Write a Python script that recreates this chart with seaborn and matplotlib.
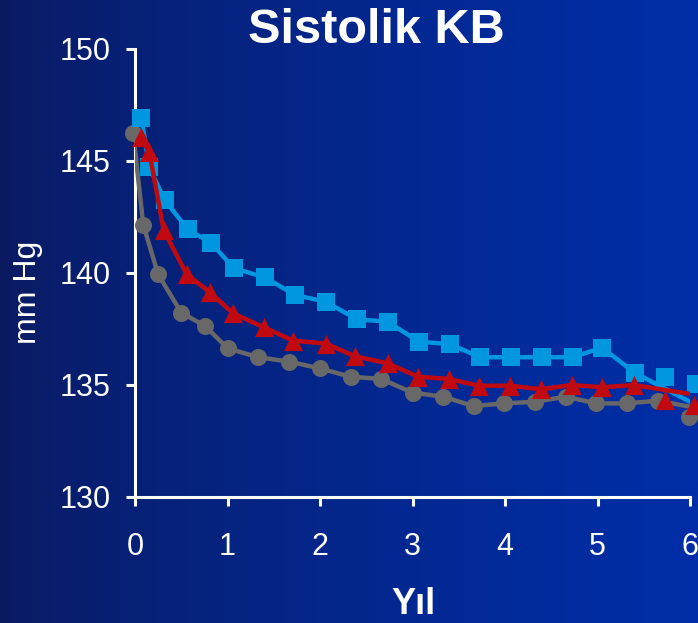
import numpy as np
import pandas as pd
import matplotlib
matplotlib.use("Agg")
import matplotlib.pyplot as plt
import seaborn as sns

# ---------------- data ----------------
gray_x = [-0.02, 0.09, 0.25, 0.5, 0.76, 1.0, 1.33, 1.67, 2.0, 2.33, 2.66, 3.0,
          3.33, 3.66, 3.99, 4.32, 4.66, 4.98, 5.32, 5.65, 5.99]
gray_y = [146.24, 142.14, 139.94, 138.23, 137.63, 136.64, 136.24, 136.04, 135.74,
          135.37, 135.27, 134.66, 134.48, 134.06, 134.18, 134.25, 134.48, 134.18,
          134.18, 134.3, 133.56]
gray_line_end = (6.0, 134.03)

blue_x = [0.07, 0.155, 0.32, 0.57, 0.82, 1.07, 1.40, 1.73, 2.06, 2.40, 2.73, 3.07,
          3.40, 3.73, 4.06, 4.40, 4.73, 5.05, 5.40, 5.73, 6.06]
blue_y = [146.9, 144.72, 143.26, 141.95, 141.35, 140.21, 139.81, 139.02, 138.72,
          137.93, 137.83, 136.93, 136.83, 136.24, 136.24, 136.24, 136.24, 136.67,
          135.55, 135.34, 135.04]
blue_line_end = (6.0, 134.25)

red_x = [0.06, 0.155, 0.31, 0.56, 0.81, 1.06, 1.39, 1.71, 2.06, 2.38, 2.73, 3.06,
         3.39, 3.72, 4.05, 4.39, 4.72, 5.05, 5.39, 5.73, 6.04]
red_y = [146.07, 145.4, 141.9, 139.94, 139.14, 138.2, 137.58, 136.98, 136.85,
         136.28, 135.97, 135.37, 135.27, 134.97, 134.97, 134.81, 135.0, 134.9,
         135.0, 134.33, 134.1]
red_line_end = (6.0, 134.6)

x_ticks = [0, 1, 2, 3, 4, 5, 6]
y_ticks = [130, 135, 140, 145, 150]

# ---------------- style ----------------
sns.set_theme(style="white")
plt.rcParams['font.family'] = ['Liberation Sans', 'DejaVu Sans']

W, H = 698, 623
fig = plt.figure(figsize=(W / 100, H / 100), dpi=100)

# background gradient
bg = fig.add_axes([0, 0, 1, 1], zorder=-10)
t = np.linspace(0, 1, 256)
left = np.array([10, 26, 95]) / 255
right = np.array([0, 46, 168]) / 255
grad = left[None, :] * (1 - t[:, None] ** 0.7) + right[None, :] * (t[:, None] ** 0.7)
bg.imshow(grad[None, :, :], aspect='auto', extent=[0, 1, 0, 1])
bg.set_axis_off()

ax = fig.add_axes([135 / W, 1 - 497 / H, (690 - 135) / W, (497 - 49) / H])
ax.patch.set_alpha(0)

series = [
    ("gray", gray_x, gray_y, gray_line_end, 1, "#686868", "o", 150),
    ("blue", blue_x, blue_y, blue_line_end, 2, "#0096e0", "s", 150),
    ("red", red_x, red_y, red_line_end, 2, "#c00a10", "^", 190),
]
for i, (name, xs, ys, end, drop, col, mk, sz) in enumerate(series):
    lx = xs[:-drop] + [end[0]]
    ly = ys[:-drop] + [end[1]]
    dfl = pd.DataFrame({"x": lx, "y": ly})
    sns.lineplot(data=dfl, x="x", y="y", ax=ax, color=col, lw=3.2, sort=False,
                 estimator=None, zorder=3 + 2 * i)
    dfm = pd.DataFrame({"x": xs, "y": ys})
    sns.scatterplot(data=dfm, x="x", y="y", ax=ax, color=col, marker=mk, s=sz,
                    linewidth=0, zorder=4 + 2 * i, clip_on=False)
for c in ax.collections:
    c.set_clip_on(False)

ax.set_xlim(0, 6)
ax.set_ylim(130, 150)
ax.set_xticks(x_ticks)
ax.set_yticks(y_ticks)
ax.set_xticklabels([str(v) for v in x_ticks])
ax.set_yticklabels([str(v) for v in y_ticks])
ax.set_xlabel("")
ax.set_ylabel("")

for s in ["top", "right"]:
    ax.spines[s].set_visible(False)
for s in ["left", "bottom"]:
    ax.spines[s].set_color("white")
    ax.spines[s].set_linewidth(2.2)
ax.tick_params(axis="both", colors="white", direction="out", length=6.5,
               width=2.2, labelsize=22)
ax.tick_params(axis="x", pad=19, bottom=True)
ax.tick_params(axis="y", pad=11, left=True)

fig.text(376 / W, 1 - 43 / H, "Sistolik KB", color="white", fontsize=35,
         fontweight="bold", ha="center", va="baseline")
fig.text(413 / W, 1 - 614 / H, "Yıl", color="white", fontsize=26,
         fontweight="bold", ha="center", va="baseline")
fig.text(28 / W, 1 - 292 / H, "mm Hg", color="white", fontsize=23,
         rotation=90, ha="center", va="center")

fig.savefig("out.png", dpi=100)
